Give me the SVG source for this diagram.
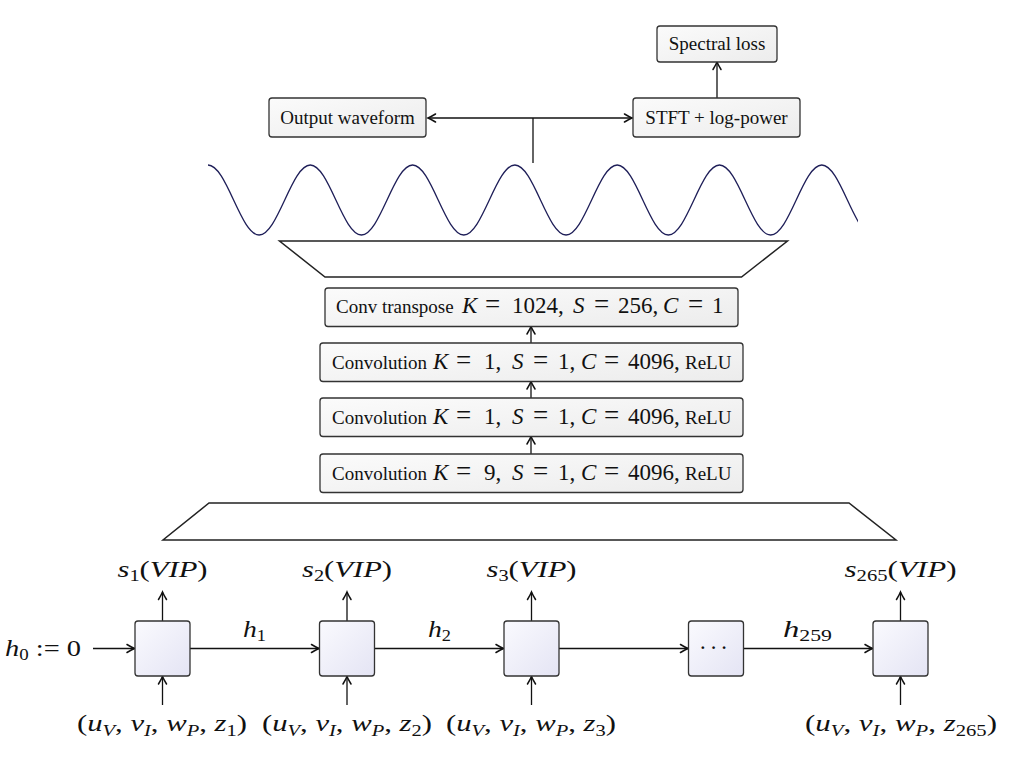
<svg xmlns="http://www.w3.org/2000/svg" width="1011" height="757" viewBox="0 0 1011 757">
<defs>
<style>
.t{font-family:"Liberation Serif","Times New Roman",serif;font-size:19px;fill:#111}
.m{font-family:"Liberation Serif","Times New Roman",serif;font-size:23px;fill:#111}
.ml{font-family:"Liberation Serif","Times New Roman",serif;font-size:24px;fill:#111}
.eq{font-size:27px}
.i{font-style:italic}
.box{fill:url(#gbox);stroke:#333;stroke-width:1.3}
.cell{fill:url(#gcell);stroke:#333;stroke-width:1.3}
.ln{fill:none;stroke:#111;stroke-width:1.3}
.trap{fill:#fff;stroke:#222;stroke-width:1.5;stroke-linejoin:miter}
</style>
<linearGradient id="gbox" x1="0" y1="0" x2="1" y2="1">
<stop offset="0" stop-color="#fbfbfb"/><stop offset="1" stop-color="#ececec"/>
</linearGradient>
<linearGradient id="gcell" x1="0" y1="0" x2="1" y2="1">
<stop offset="0" stop-color="#fafafe"/><stop offset="1" stop-color="#e4e4f4"/>
</linearGradient>
<marker id="arr" viewBox="-10 -6 12 12" markerWidth="12" markerHeight="12" refX="0" refY="0" orient="auto-start-reverse" markerUnits="userSpaceOnUse">
<path d="M-7.5,-4 Q-2.5,-1 0,0 Q-2.5,1 -7.5,4" fill="none" stroke="#111" stroke-width="1.5" stroke-linecap="round"/>
</marker>
<clipPath id="wclip"><rect x="200" y="150" width="658" height="100"/></clipPath>
</defs>
<rect width="1011" height="757" fill="#fff"/>

<g id="connectors">
<line class="ln" x1="717" y1="98" x2="717" y2="62" marker-end="url(#arr)"/>
<line class="ln" x1="428" y1="118" x2="632" y2="118" marker-start="url(#arr)" marker-end="url(#arr)"/>
<line class="ln" x1="533" y1="118" x2="533" y2="163"/>
<line class="ln" x1="531" y1="343" x2="531" y2="326.5" marker-end="url(#arr)"/>
<line class="ln" x1="531" y1="398" x2="531" y2="381.5" marker-end="url(#arr)"/>
<line class="ln" x1="531" y1="454" x2="531" y2="436.5" marker-end="url(#arr)"/>
<line class="ln" x1="93" y1="648.5" x2="134.5" y2="648.5" marker-end="url(#arr)"/>
<line class="ln" x1="190" y1="648.5" x2="319" y2="648.5" marker-end="url(#arr)"/>
<line class="ln" x1="375" y1="648.5" x2="503.5" y2="648.5" marker-end="url(#arr)"/>
<line class="ln" x1="559" y1="648.5" x2="688" y2="648.5" marker-end="url(#arr)"/>
<line class="ln" x1="744" y1="648.5" x2="872.5" y2="648.5" marker-end="url(#arr)"/>
<line class="ln" x1="162.5" y1="621" x2="162.5" y2="592" marker-end="url(#arr)"/>
<line class="ln" x1="347" y1="621" x2="347" y2="592" marker-end="url(#arr)"/>
<line class="ln" x1="531.5" y1="621" x2="531.5" y2="592" marker-end="url(#arr)"/>
<line class="ln" x1="900.5" y1="621" x2="900.5" y2="592" marker-end="url(#arr)"/>
<line class="ln" x1="162.5" y1="705" x2="162.5" y2="676.5" marker-end="url(#arr)"/>
<line class="ln" x1="347" y1="705" x2="347" y2="676.5" marker-end="url(#arr)"/>
<line class="ln" x1="531.5" y1="705" x2="531.5" y2="676.5" marker-end="url(#arr)"/>
<line class="ln" x1="900.5" y1="705" x2="900.5" y2="676.5" marker-end="url(#arr)"/>
</g>

<g id="spectral-loss">
<rect class="box" x="657" y="26" width="120" height="36" rx="3"/>
<text class="t" x="717" y="50" text-anchor="middle">Spectral loss</text>
</g>
<g id="output-waveform">
<rect class="box" x="269" y="98" width="157" height="39" rx="3"/>
<text class="t" x="347.5" y="124" text-anchor="middle">Output waveform</text>
</g>
<g id="stft">
<rect class="box" x="633" y="98" width="167" height="39" rx="3"/>
<text class="t" x="716.5" y="124" text-anchor="middle">STFT + log-power</text>
</g>

<g id="waveform">
<path clip-path="url(#wclip)" fill="none" stroke="#1e1e58" stroke-width="1.3" d="M208,165 C226.59,165 240.56,235 259.15,235 S291.71,165 310.30,165 S342.86,235 361.45,235 S394.01,165 412.60,165 S445.16,235 463.75,235 S496.31,165 514.90,165 S547.46,235 566.05,235 S598.61,165 617.20,165 S649.76,235 668.35,235 S700.91,165 719.50,165 S752.06,235 770.65,235 S803.21,165 821.80,165 S854.36,235 872.95,235"/>
</g>

<g id="upsample-trapezoid">
<polygon class="trap" points="279.5,241 787.5,241 741.5,277 325,277"/>
</g>

<g id="conv-transpose">
<rect class="box" x="325" y="288" width="413" height="38.5" rx="3"/>
<text class="m" y="313"><tspan class="t" x="336">Conv transpose</tspan><tspan class="i" x="462">K</tspan><tspan class="eq" x="485">=</tspan><tspan x="512">1024,</tspan><tspan class="i" x="573">S</tspan><tspan class="eq" x="594">=</tspan><tspan x="618">256,</tspan><tspan class="i" x="663">C</tspan><tspan class="eq" x="688">=</tspan><tspan x="712">1</tspan></text>
</g>
<g id="conv-3">
<rect class="box" x="320" y="343" width="423" height="38.5" rx="3"/>
<text class="m" y="369"><tspan class="t" x="332">Convolution</tspan><tspan class="i" x="433">K</tspan><tspan class="eq" x="456">=</tspan><tspan x="484">1,</tspan><tspan class="i" x="512">S</tspan><tspan class="eq" x="533">=</tspan><tspan x="558">1,</tspan><tspan class="i" x="581">C</tspan><tspan class="eq" x="604">=</tspan><tspan x="628">4096,</tspan><tspan class="t" x="685">ReLU</tspan></text>
</g>
<g id="conv-2">
<rect class="box" x="320" y="398" width="423" height="38.5" rx="3"/>
<text class="m" y="424"><tspan class="t" x="332">Convolution</tspan><tspan class="i" x="433">K</tspan><tspan class="eq" x="456">=</tspan><tspan x="484">1,</tspan><tspan class="i" x="512">S</tspan><tspan class="eq" x="533">=</tspan><tspan x="558">1,</tspan><tspan class="i" x="581">C</tspan><tspan class="eq" x="604">=</tspan><tspan x="628">4096,</tspan><tspan class="t" x="685">ReLU</tspan></text>
</g>
<g id="conv-1">
<rect class="box" x="320" y="454" width="423" height="38.5" rx="3"/>
<text class="m" y="480"><tspan class="t" x="332">Convolution</tspan><tspan class="i" x="433">K</tspan><tspan class="eq" x="456">=</tspan><tspan x="484">9,</tspan><tspan class="i" x="512">S</tspan><tspan class="eq" x="533">=</tspan><tspan x="558">1,</tspan><tspan class="i" x="581">C</tspan><tspan class="eq" x="604">=</tspan><tspan x="628">4096,</tspan><tspan class="t" x="685">ReLU</tspan></text>
</g>

<g id="pooling-trapezoid">
<polygon class="trap" points="209,503 849,503 896,540 163,540"/>
</g>

<g id="h0-label">
<text class="ml" x="5" y="656" textLength="76" lengthAdjust="spacingAndGlyphs"><tspan class="i">h</tspan><tspan font-size="16" dy="4">0</tspan><tspan dy="-4"> := 0</tspan></text>
</g>

<g id="cell-1">
<rect class="cell" x="135" y="621" width="55" height="55" rx="3"/>
<text class="ml" x="162.5" y="577" text-anchor="middle" textLength="90" lengthAdjust="spacingAndGlyphs"><tspan class="i">s</tspan><tspan font-size="16" dy="4">1</tspan><tspan dy="-4">(</tspan><tspan class="i">VIP</tspan>)</text>
<text class="ml" x="162" y="731" text-anchor="middle" textLength="170" lengthAdjust="spacingAndGlyphs">(<tspan class="i">u</tspan><tspan class="i" font-size="16" dy="5">V</tspan><tspan dy="-5">, </tspan><tspan class="i">v</tspan><tspan class="i" font-size="16" dy="5">I</tspan><tspan dy="-5">, </tspan><tspan class="i">w</tspan><tspan class="i" font-size="16" dy="5">P</tspan><tspan dy="-5">, </tspan><tspan class="i">z</tspan><tspan font-size="16" dy="5">1</tspan><tspan dy="-5">)</tspan></text>
</g>
<g id="cell-2">
<rect class="cell" x="319.5" y="621" width="55" height="55" rx="3"/>
<text class="ml" x="347" y="577" text-anchor="middle" textLength="90" lengthAdjust="spacingAndGlyphs"><tspan class="i">s</tspan><tspan font-size="16" dy="4">2</tspan><tspan dy="-4">(</tspan><tspan class="i">VIP</tspan>)</text>
<text class="ml" x="347" y="731" text-anchor="middle" textLength="170" lengthAdjust="spacingAndGlyphs">(<tspan class="i">u</tspan><tspan class="i" font-size="16" dy="5">V</tspan><tspan dy="-5">, </tspan><tspan class="i">v</tspan><tspan class="i" font-size="16" dy="5">I</tspan><tspan dy="-5">, </tspan><tspan class="i">w</tspan><tspan class="i" font-size="16" dy="5">P</tspan><tspan dy="-5">, </tspan><tspan class="i">z</tspan><tspan font-size="16" dy="5">2</tspan><tspan dy="-5">)</tspan></text>
</g>
<g id="cell-3">
<rect class="cell" x="504" y="621" width="55" height="55" rx="3"/>
<text class="ml" x="531.5" y="577" text-anchor="middle" textLength="90" lengthAdjust="spacingAndGlyphs"><tspan class="i">s</tspan><tspan font-size="16" dy="4">3</tspan><tspan dy="-4">(</tspan><tspan class="i">VIP</tspan>)</text>
<text class="ml" x="531" y="731" text-anchor="middle" textLength="170" lengthAdjust="spacingAndGlyphs">(<tspan class="i">u</tspan><tspan class="i" font-size="16" dy="5">V</tspan><tspan dy="-5">, </tspan><tspan class="i">v</tspan><tspan class="i" font-size="16" dy="5">I</tspan><tspan dy="-5">, </tspan><tspan class="i">w</tspan><tspan class="i" font-size="16" dy="5">P</tspan><tspan dy="-5">, </tspan><tspan class="i">z</tspan><tspan font-size="16" dy="5">3</tspan><tspan dy="-5">)</tspan></text>
</g>
<g id="cell-dots">
<rect class="cell" x="688.5" y="621" width="55" height="55" rx="3"/>
<text class="m" x="715" y="655" text-anchor="middle" letter-spacing="3">···</text>
</g>
<g id="cell-265">
<rect class="cell" x="873" y="621" width="55" height="55" rx="3"/>
<text class="ml" x="900.5" y="577" text-anchor="middle" textLength="112" lengthAdjust="spacingAndGlyphs"><tspan class="i">s</tspan><tspan font-size="16" dy="4">265</tspan><tspan dy="-4">(</tspan><tspan class="i">VIP</tspan>)</text>
<text class="ml" x="901" y="731" text-anchor="middle" textLength="192" lengthAdjust="spacingAndGlyphs">(<tspan class="i">u</tspan><tspan class="i" font-size="16" dy="5">V</tspan><tspan dy="-5">, </tspan><tspan class="i">v</tspan><tspan class="i" font-size="16" dy="5">I</tspan><tspan dy="-5">, </tspan><tspan class="i">w</tspan><tspan class="i" font-size="16" dy="5">P</tspan><tspan dy="-5">, </tspan><tspan class="i">z</tspan><tspan font-size="16" dy="5">265</tspan><tspan dy="-5">)</tspan></text>
</g>

<g id="hidden-labels">
<text class="ml" x="243" y="637" textLength="23" lengthAdjust="spacingAndGlyphs"><tspan class="i">h</tspan><tspan font-size="16" dy="4">1</tspan></text>
<text class="ml" x="428" y="637" textLength="23" lengthAdjust="spacingAndGlyphs"><tspan class="i">h</tspan><tspan font-size="16" dy="4">2</tspan></text>
<text class="ml" x="783" y="637" textLength="49" lengthAdjust="spacingAndGlyphs"><tspan class="i">h</tspan><tspan font-size="16" dy="4">259</tspan></text>
</g>
</svg>
